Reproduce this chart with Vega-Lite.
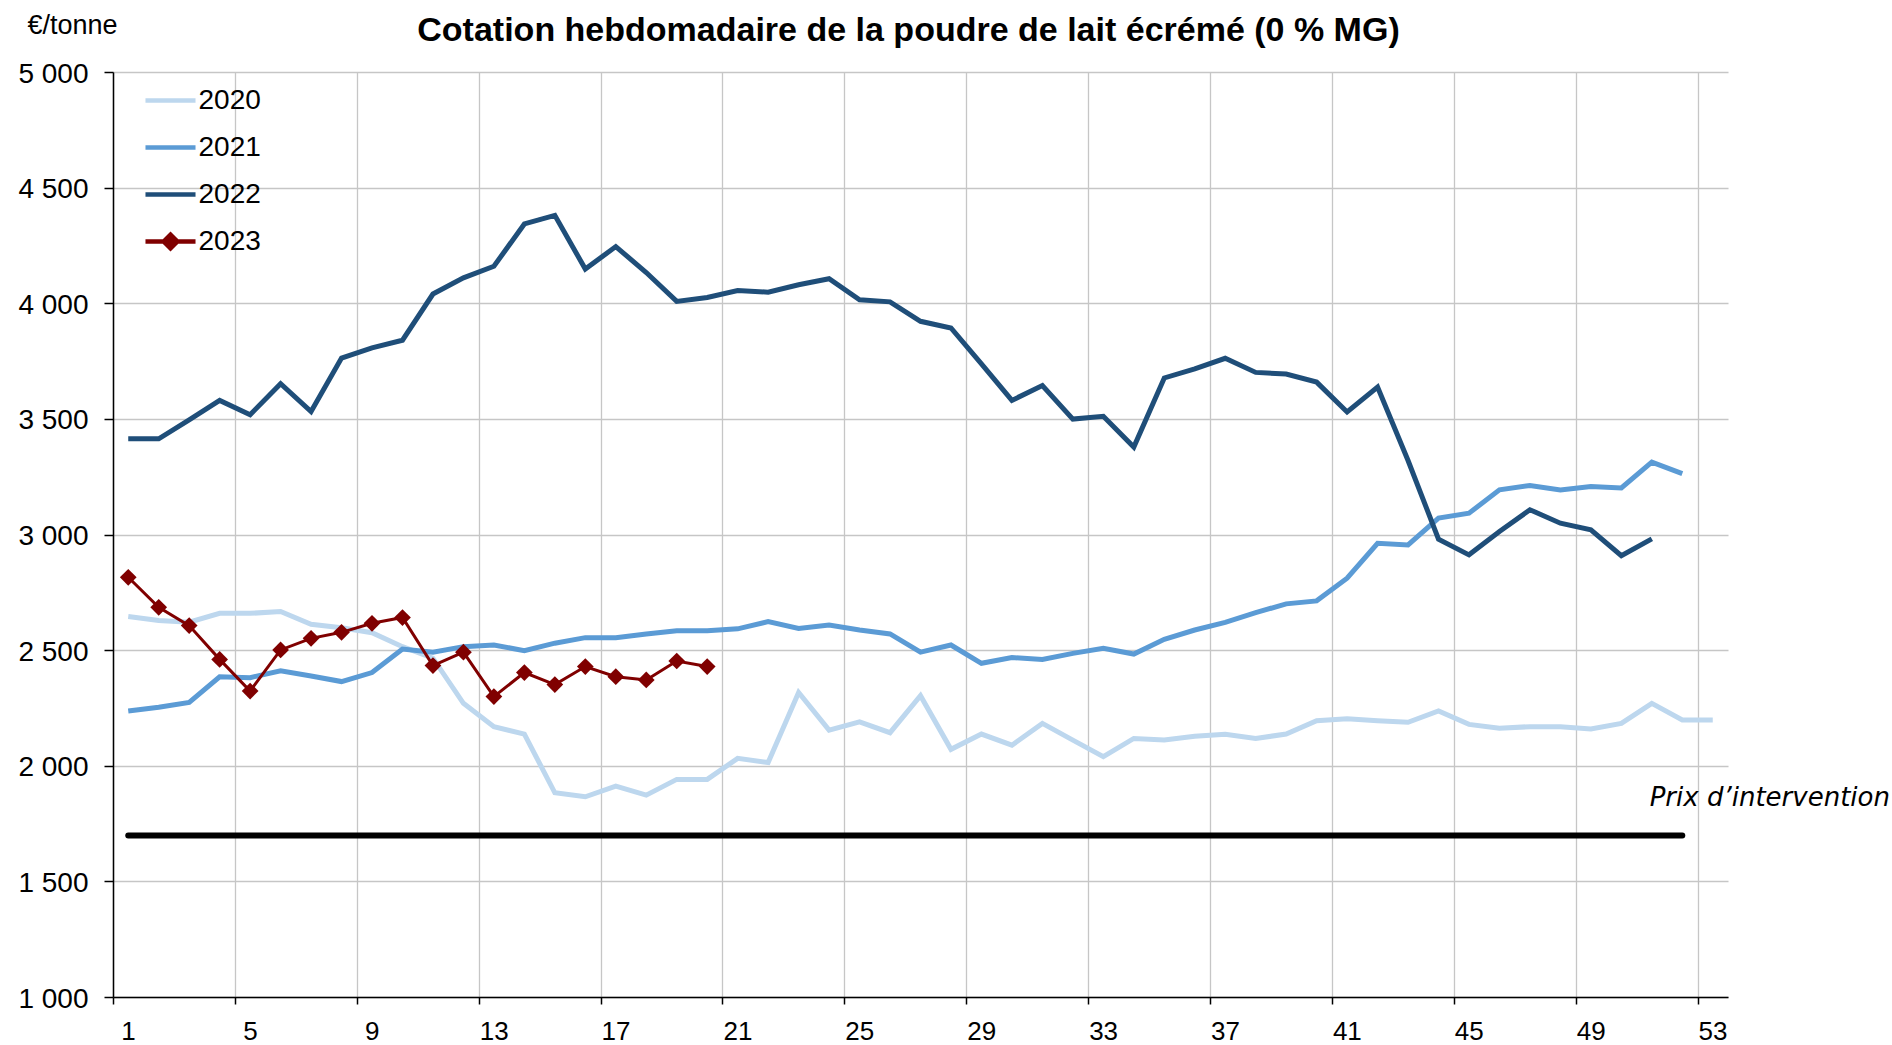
{
  "$schema": "https://vega.github.io/schema/vega-lite/v6.json",
  "width": 1615,
  "height": 925,
  "autosize": {"type": "none"},
  "padding": {"left": 113, "top": 72, "right": 164, "bottom": 48},
  "background": "white",
  "title": {
    "text": "Cotation hebdomadaire de la poudre de lait écrémé (0 % MG)",
    "font": "Liberation Sans", "fontSize": 34, "fontWeight": "bold", "color": "black",
    "anchor": "middle", "frame": "group", "dx": -12, "offset": 0, "dy": 64, "baseline": "alphabetic"
  },
  "config": {
    "view": {"stroke": null},
    "font": "Liberation Sans",
    "legend": {
      "padding": 0, "symbolSize": 1739, "symbolOpacity": 1, "labelFontSize": 28, "labelFont": "Liberation Sans",
      "labelColor": "black", "labelOffset": 4.5, "rowPadding": 9, "symbolStrokeWidth": 4.5
    }
  },
  "datasets": {
    "prices": [
      {"year": "2020", "week": 1, "price": 2645}, {"year": "2020", "week": 2, "price": 2628}, {"year": "2020", "week": 3, "price": 2621}, {"year": "2020", "week": 4, "price": 2659}, {"year": "2020", "week": 5, "price": 2659}, {"year": "2020", "week": 6, "price": 2667}, {"year": "2020", "week": 7, "price": 2612}, {"year": "2020", "week": 8, "price": 2597}, {"year": "2020", "week": 9, "price": 2575}, {"year": "2020", "week": 10, "price": 2515},
      {"year": "2020", "week": 11, "price": 2465}, {"year": "2020", "week": 12, "price": 2270}, {"year": "2020", "week": 13, "price": 2169}, {"year": "2020", "week": 14, "price": 2137}, {"year": "2020", "week": 15, "price": 1883}, {"year": "2020", "week": 16, "price": 1866}, {"year": "2020", "week": 17, "price": 1912}, {"year": "2020", "week": 18, "price": 1873}, {"year": "2020", "week": 19, "price": 1941}, {"year": "2020", "week": 20, "price": 1941},
      {"year": "2020", "week": 21, "price": 2032}, {"year": "2020", "week": 22, "price": 2014}, {"year": "2020", "week": 23, "price": 2317}, {"year": "2020", "week": 24, "price": 2154}, {"year": "2020", "week": 25, "price": 2190}, {"year": "2020", "week": 26, "price": 2143}, {"year": "2020", "week": 27, "price": 2303}, {"year": "2020", "week": 28, "price": 2071}, {"year": "2020", "week": 29, "price": 2137}, {"year": "2020", "week": 30, "price": 2089},
      {"year": "2020", "week": 31, "price": 2183}, {"year": "2020", "week": 32, "price": 2111}, {"year": "2020", "week": 33, "price": 2039}, {"year": "2020", "week": 34, "price": 2118}, {"year": "2020", "week": 35, "price": 2111}, {"year": "2020", "week": 36, "price": 2128}, {"year": "2020", "week": 37, "price": 2136}, {"year": "2020", "week": 38, "price": 2118}, {"year": "2020", "week": 39, "price": 2137}, {"year": "2020", "week": 40, "price": 2195},
      {"year": "2020", "week": 41, "price": 2203}, {"year": "2020", "week": 42, "price": 2195}, {"year": "2020", "week": 43, "price": 2188}, {"year": "2020", "week": 44, "price": 2237}, {"year": "2020", "week": 45, "price": 2179}, {"year": "2020", "week": 46, "price": 2162}, {"year": "2020", "week": 47, "price": 2169}, {"year": "2020", "week": 48, "price": 2169}, {"year": "2020", "week": 49, "price": 2159}, {"year": "2020", "week": 50, "price": 2183},
      {"year": "2020", "week": 51, "price": 2270}, {"year": "2020", "week": 52, "price": 2198}, {"year": "2020", "week": 53, "price": 2198},
      {"year": "2021", "week": 1, "price": 2237}, {"year": "2021", "week": 2, "price": 2253}, {"year": "2021", "week": 3, "price": 2274}, {"year": "2021", "week": 4, "price": 2385}, {"year": "2021", "week": 5, "price": 2381}, {"year": "2021", "week": 6, "price": 2411}, {"year": "2021", "week": 7, "price": 2388}, {"year": "2021", "week": 8, "price": 2364}, {"year": "2021", "week": 9, "price": 2403}, {"year": "2021", "week": 10, "price": 2505},
      {"year": "2021", "week": 11, "price": 2491}, {"year": "2021", "week": 12, "price": 2515}, {"year": "2021", "week": 13, "price": 2522}, {"year": "2021", "week": 14, "price": 2498}, {"year": "2021", "week": 15, "price": 2530}, {"year": "2021", "week": 16, "price": 2554}, {"year": "2021", "week": 17, "price": 2554}, {"year": "2021", "week": 18, "price": 2570}, {"year": "2021", "week": 19, "price": 2584}, {"year": "2021", "week": 20, "price": 2584},
      {"year": "2021", "week": 21, "price": 2592}, {"year": "2021", "week": 22, "price": 2623}, {"year": "2021", "week": 23, "price": 2594}, {"year": "2021", "week": 24, "price": 2609}, {"year": "2021", "week": 25, "price": 2587}, {"year": "2021", "week": 26, "price": 2570}, {"year": "2021", "week": 27, "price": 2491}, {"year": "2021", "week": 28, "price": 2522}, {"year": "2021", "week": 29, "price": 2443}, {"year": "2021", "week": 30, "price": 2468},
      {"year": "2021", "week": 31, "price": 2460}, {"year": "2021", "week": 32, "price": 2486}, {"year": "2021", "week": 33, "price": 2508}, {"year": "2021", "week": 34, "price": 2483}, {"year": "2021", "week": 35, "price": 2547}, {"year": "2021", "week": 36, "price": 2587}, {"year": "2021", "week": 37, "price": 2620}, {"year": "2021", "week": 38, "price": 2662}, {"year": "2021", "week": 39, "price": 2700}, {"year": "2021", "week": 40, "price": 2713},
      {"year": "2021", "week": 41, "price": 2811}, {"year": "2021", "week": 42, "price": 2962}, {"year": "2021", "week": 43, "price": 2955}, {"year": "2021", "week": 44, "price": 3071}, {"year": "2021", "week": 45, "price": 3092}, {"year": "2021", "week": 46, "price": 3193}, {"year": "2021", "week": 47, "price": 3212}, {"year": "2021", "week": 48, "price": 3193}, {"year": "2021", "week": 49, "price": 3208}, {"year": "2021", "week": 50, "price": 3201},
      {"year": "2021", "week": 51, "price": 3313}, {"year": "2021", "week": 52, "price": 3263},
      {"year": "2022", "week": 1, "price": 3414}, {"year": "2022", "week": 2, "price": 3414}, {"year": "2022", "week": 3, "price": 3496}, {"year": "2022", "week": 4, "price": 3580}, {"year": "2022", "week": 5, "price": 3518}, {"year": "2022", "week": 6, "price": 3652}, {"year": "2022", "week": 7, "price": 3532}, {"year": "2022", "week": 8, "price": 3763}, {"year": "2022", "week": 9, "price": 3807}, {"year": "2022", "week": 10, "price": 3840},
      {"year": "2022", "week": 11, "price": 4040}, {"year": "2022", "week": 12, "price": 4110}, {"year": "2022", "week": 13, "price": 4160}, {"year": "2022", "week": 14, "price": 4343}, {"year": "2022", "week": 15, "price": 4380}, {"year": "2022", "week": 16, "price": 4148}, {"year": "2022", "week": 17, "price": 4245}, {"year": "2022", "week": 18, "price": 4133}, {"year": "2022", "week": 19, "price": 4008}, {"year": "2022", "week": 20, "price": 4025},
      {"year": "2022", "week": 21, "price": 4055}, {"year": "2022", "week": 22, "price": 4048}, {"year": "2022", "week": 23, "price": 4080}, {"year": "2022", "week": 24, "price": 4106}, {"year": "2022", "week": 25, "price": 4015}, {"year": "2022", "week": 26, "price": 4006}, {"year": "2022", "week": 27, "price": 3922}, {"year": "2022", "week": 28, "price": 3893}, {"year": "2022", "week": 29, "price": 3738}, {"year": "2022", "week": 30, "price": 3580},
      {"year": "2022", "week": 31, "price": 3644}, {"year": "2022", "week": 32, "price": 3499}, {"year": "2022", "week": 33, "price": 3511}, {"year": "2022", "week": 34, "price": 3378}, {"year": "2022", "week": 35, "price": 3677}, {"year": "2022", "week": 36, "price": 3716}, {"year": "2022", "week": 37, "price": 3762}, {"year": "2022", "week": 38, "price": 3701}, {"year": "2022", "week": 39, "price": 3694}, {"year": "2022", "week": 40, "price": 3659},
      {"year": "2022", "week": 41, "price": 3530}, {"year": "2022", "week": 42, "price": 3638}, {"year": "2022", "week": 43, "price": 3320}, {"year": "2022", "week": 44, "price": 2980}, {"year": "2022", "week": 45, "price": 2912}, {"year": "2022", "week": 46, "price": 3013}, {"year": "2022", "week": 47, "price": 3107}, {"year": "2022", "week": 48, "price": 3049}, {"year": "2022", "week": 49, "price": 3020}, {"year": "2022", "week": 50, "price": 2908},
      {"year": "2022", "week": 51, "price": 2981},
      {"year": "2023", "week": 1, "price": 2815}, {"year": "2023", "week": 2, "price": 2685}, {"year": "2023", "week": 3, "price": 2606}, {"year": "2023", "week": 4, "price": 2460}, {"year": "2023", "week": 5, "price": 2323}, {"year": "2023", "week": 6, "price": 2501}, {"year": "2023", "week": 7, "price": 2551}, {"year": "2023", "week": 8, "price": 2577}, {"year": "2023", "week": 9, "price": 2616}, {"year": "2023", "week": 10, "price": 2641},
      {"year": "2023", "week": 11, "price": 2433}, {"year": "2023", "week": 12, "price": 2491}, {"year": "2023", "week": 13, "price": 2299}, {"year": "2023", "week": 14, "price": 2403}, {"year": "2023", "week": 15, "price": 2351}, {"year": "2023", "week": 16, "price": 2429}, {"year": "2023", "week": 17, "price": 2385}, {"year": "2023", "week": 18, "price": 2371}, {"year": "2023", "week": 19, "price": 2453}, {"year": "2023", "week": 20, "price": 2429}
    ]
  },
  "encoding": {
    "x": {
      "field": "week", "type": "quantitative",
      "scale": {"domain": [0.5, 53.5], "nice": false, "zero": false},
      "axis": {
        "values": [0.5, 4.5, 8.5, 12.5, 16.5, 20.5, 24.5, 28.5, 32.5, 36.5, 40.5, 44.5, 48.5, 52.5],
        "labelExpr": "format(datum.value + 0.5, 'd')",
        "labelOffset": 15, "labelFlush": false, "labelBound": false, "labelOverlap": false,
        "grid": true, "gridColor": "#C6C6C6", "gridWidth": 1.3,
        "domainColor": "black", "domainWidth": 1.5, "tickColor": "black", "tickWidth": 1.5, "tickSize": 7,
        "labelFont": "Liberation Sans", "labelFontSize": 26, "labelColor": "black", "labelPadding": 14, "title": null
      }
    },
    "y": {
      "field": "price", "type": "quantitative",
      "scale": {"domain": [1000, 5000], "nice": false, "zero": false},
      "axis": {
        "values": [1000, 1500, 2000, 2500, 3000, 3500, 4000, 4500, 5000],
        "labelExpr": "replace(format(datum.value, ','), ',', ' ')",
        "labelFlush": false, "labelOffset": 2,
        "grid": true, "gridColor": "#C6C6C6", "gridWidth": 1.5,
        "domainColor": "black", "domainWidth": 1.5, "tickColor": "black", "tickWidth": 1.5, "tickSize": 9,
        "labelFont": "Liberation Sans", "labelFontSize": 28, "labelColor": "black", "labelPadding": 16,
        "title": "€/tonne", "titleAngle": 0, "titleX": -86, "titleY": -39, "titleAlign": "left",
        "titleBaseline": "alphabetic", "titleFont": "Liberation Sans", "titleFontSize": 27,
        "titleFontWeight": "normal", "titleColor": "black"
      }
    }
  },
  "layer": [
    {
      "data": {"values": [{"week": 1, "week_end": 52, "price": 1698}]},
      "mark": {"type": "rule", "color": "black", "strokeWidth": 6, "strokeCap": "round"},
      "encoding": {"x2": {"field": "week_end"}}
    },
    {
      "data": {"name": "prices"},
      "mark": {"type": "point", "filled": true, "opacity": 0},
      "encoding": {
        "fill": {"field": "year", "type": "nominal",
          "scale": {"domain": ["2020", "2021", "2022", "2023"], "range": ["#BDD7EE", "#5B9BD5", "#1F4E79", "#800000"]},
          "legend": {"orient": "none", "legendX": 34, "legendY": 5, "title": null, "symbolOpacity": 1}},
        "stroke": {"field": "year", "type": "nominal",
          "scale": {"domain": ["2020", "2021", "2022", "2023"], "range": ["#BDD7EE", "#5B9BD5", "#1F4E79", "#800000"]},
          "legend": {"orient": "none", "legendX": 34, "legendY": 5, "title": null, "symbolOpacity": 1}},
        "shape": {"field": "year", "type": "nominal",
          "scale": {"domain": ["2020", "2021", "2022", "2023"], "range": ["M-1.2,0H1.2", "M-1.2,0H1.2", "M-1.2,0H1.2", "M-1.2,0H1.2M-0.33,0L0,-0.33L0.33,0L0,0.33Z"]},
          "legend": {"orient": "none", "legendX": 34, "legendY": 5, "title": null, "symbolOpacity": 1}}
      }
    },
    {
      "data": {"name": "prices"},
      "transform": [{"filter": "datum.year != '2023'"}],
      "mark": {"type": "line", "strokeWidth": 5},
      "encoding": {
        "color": {"field": "year", "type": "nominal",
          "scale": {"domain": ["2020", "2021", "2022", "2023"], "range": ["#BDD7EE", "#5B9BD5", "#1F4E79", "#800000"]},
          "legend": null}
      }
    },
    {
      "data": {"name": "prices"},
      "transform": [{"filter": "datum.year == '2023'"}],
      "mark": {"type": "line", "strokeWidth": 3, "color": "#800000"}
    },
    {
      "data": {"name": "prices"},
      "transform": [{"filter": "datum.year == '2023'"}],
      "mark": {"type": "point", "shape": "diamond", "filled": true, "size": 280, "color": "#800000", "opacity": 1}
    },
    {
      "data": {"values": [{"week": 50.93, "price": 1825, "label": "Prix d’intervention"}]},
      "mark": {"type": "text", "align": "left", "baseline": "alphabetic", "font": "DejaVu Sans", "fontStyle": "italic", "fontSize": 26, "color": "black"},
      "encoding": {"text": {"field": "label"}}
    }
  ]
}
